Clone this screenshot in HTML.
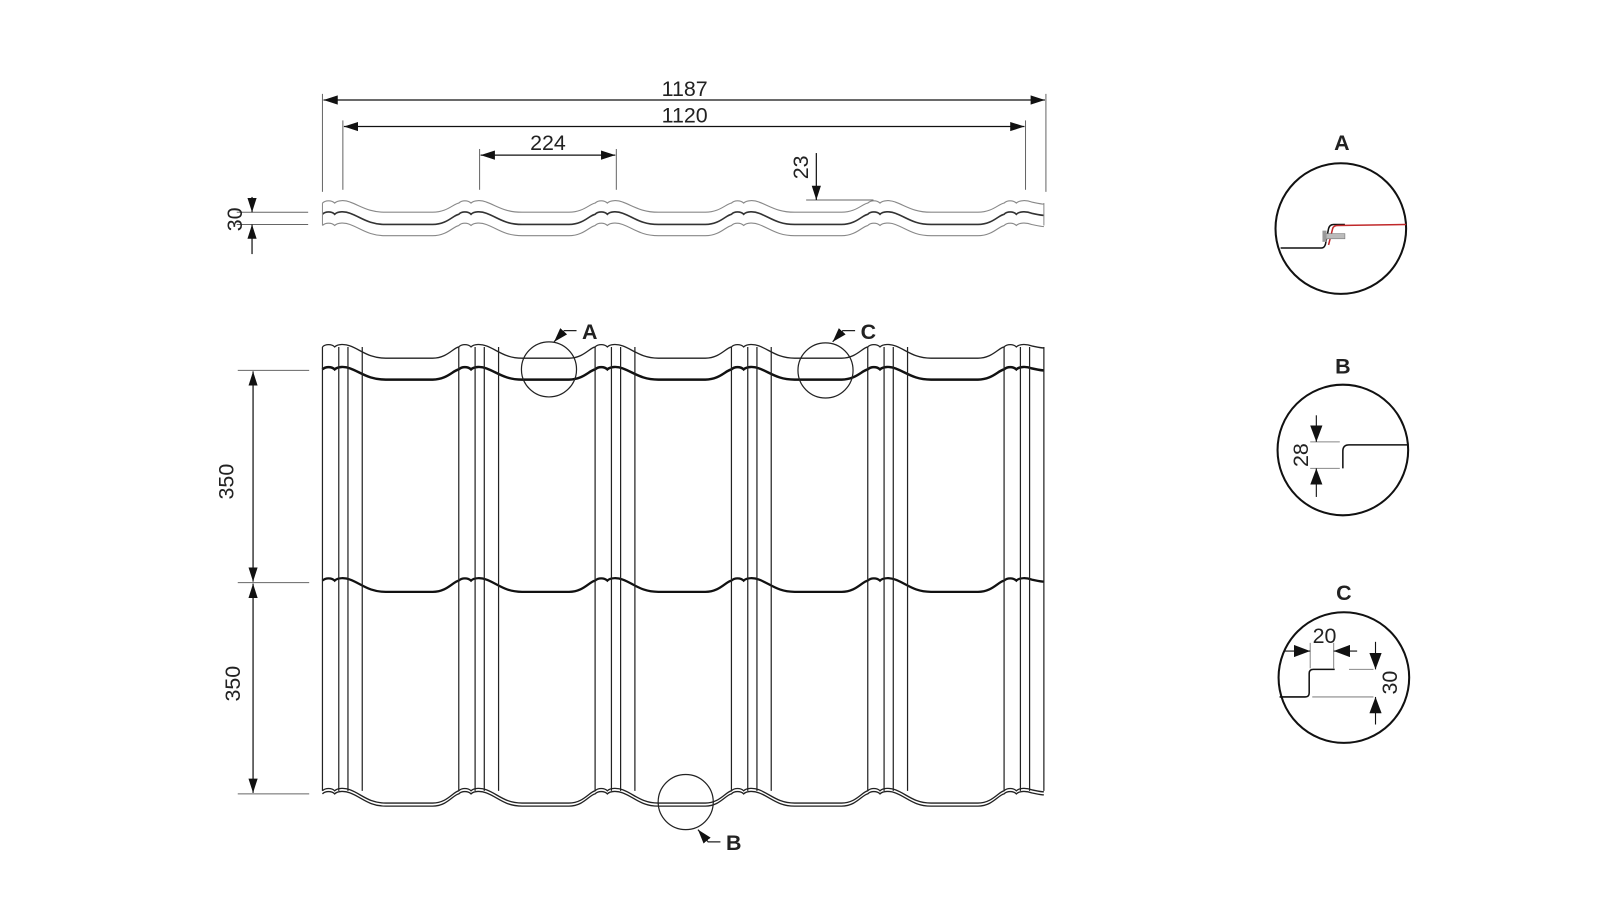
<!DOCTYPE html>
<html><head><meta charset="utf-8"><style>
html,body{margin:0;padding:0;background:#fff;width:1600px;height:900px;overflow:hidden}
svg{display:block}
text{font-family:"Liberation Sans",sans-serif;fill:#222}
</style></head><body>
<svg id="s" width="1600" height="900" viewBox="0 0 1568 882" preserveAspectRatio="none" xmlns="http://www.w3.org/2000/svg">
<defs>
<marker id="ar" viewBox="0 0 14 10" refX="14" refY="5" markerWidth="14" markerHeight="10" markerUnits="userSpaceOnUse" orient="auto-start-reverse"><path d="M0,0.5 L14,5 L0,9.5 Z" fill="#111"/></marker>
<marker id="ar2" viewBox="0 0 16 12" refX="16" refY="6" markerWidth="16" markerHeight="12" markerUnits="userSpaceOnUse" orient="auto-start-reverse"><path d="M0,0 L16,6 L0,12 Z" fill="#111"/></marker>
</defs>
<g id="curves" fill="none" stroke="#222"></g>
<g stroke="#666" stroke-width="1" fill="none">
<line x1="316" y1="92" x2="316" y2="188"/><line x1="1025" y1="92" x2="1025" y2="188"/>
<line x1="336" y1="118" x2="336" y2="186"/><line x1="1005" y1="118" x2="1005" y2="186"/>
<line x1="470" y1="146" x2="470" y2="186"/><line x1="604" y1="146" x2="604" y2="186"/>
<line x1="232" y1="208" x2="302" y2="208"/><line x1="232" y1="220" x2="302" y2="220"/>
<line x1="790" y1="196" x2="856" y2="196"/>
<line x1="233" y1="363" x2="303" y2="363"/><line x1="233" y1="571" x2="303" y2="571"/><line x1="233" y1="778" x2="303" y2="778"/>
</g>
<g stroke="#111" stroke-width="1.2" fill="none">
<line x1="317" y1="98" x2="1024" y2="98" marker-start="url(#ar)" marker-end="url(#ar)"/>
<line x1="337" y1="124" x2="1004" y2="124" marker-start="url(#ar)" marker-end="url(#ar)"/>
<line x1="471" y1="152" x2="603" y2="152" marker-start="url(#ar)" marker-end="url(#ar)"/>
<line x1="800" y1="150" x2="800" y2="196" marker-end="url(#ar)"/>
<line x1="247" y1="193" x2="247" y2="208" marker-end="url(#ar)"/>
<line x1="247" y1="249" x2="247" y2="220" marker-end="url(#ar)"/>
<line x1="248" y1="364" x2="248" y2="570" marker-start="url(#ar)" marker-end="url(#ar)"/>
<line x1="248" y1="572" x2="248" y2="777" marker-start="url(#ar)" marker-end="url(#ar)"/>
</g>
<g font-size="21" text-anchor="middle">
<text x="671" y="94">1187</text>
<text x="671" y="120">1120</text>
<text x="537" y="147">224</text>
<text transform="translate(792,164) rotate(-90)">23</text>
<text transform="translate(237,215) rotate(-90)">30</text>
<text transform="translate(229,472) rotate(-90)">350</text>
<text transform="translate(235,670) rotate(-90)">350</text>
</g>
<g stroke="#222" stroke-width="1.2" fill="none">
<circle cx="538" cy="362" r="27"/><circle cx="809" cy="363" r="27"/><circle cx="672" cy="786" r="27"/>
<polyline points="565,324 553,324 543,335" marker-end="url(#ar)"/>
<polyline points="838,324 826,324 816,335" marker-end="url(#ar)"/>
<polyline points="706,825 694,825 684,813" marker-end="url(#ar)"/>
</g>
<g font-size="21" font-weight="bold" text-anchor="middle">
<text x="578" y="332">A</text><text x="851" y="332">C</text><text x="719" y="833">B</text>
<text x="1315" y="147">A</text><text x="1316" y="366">B</text><text x="1317" y="588">C</text>
</g>
<circle cx="1314" cy="224" r="64" fill="none" stroke="#111" stroke-width="2"/>
<path d="M1255,243 L1295,243 Q1298,243 1299,239 L1302,224 Q1303,220 1307,220 L1318,220" fill="none" stroke="#111" stroke-width="1.5"/>
<path d="M1302,240 L1306,224 Q1307,221 1311,221 L1378,220" fill="none" stroke="#c0282a" stroke-width="1.5"/>
<rect x="1298" y="229" width="20" height="5" fill="#bbb" stroke="#777" stroke-width="0.6"/>
<rect x="1296" y="226" width="4" height="11" fill="#999"/>
<circle cx="1316" cy="441" r="64" fill="none" stroke="#111" stroke-width="2"/>
<path d="M1379,436 L1322,436 Q1316,436 1316,442 L1316,459" fill="none" stroke="#111" stroke-width="1.5"/>
<g stroke="#888" stroke-width="1"><line x1="1284" y1="433" x2="1313" y2="433"/><line x1="1284" y1="459" x2="1313" y2="459"/></g>
<g stroke="#111" stroke-width="1.1"><line x1="1290" y1="407" x2="1290" y2="433" marker-end="url(#ar2)"/><line x1="1290" y1="487" x2="1290" y2="459" marker-end="url(#ar2)"/></g>
<text font-size="21" text-anchor="middle" transform="translate(1282,446) rotate(-90)">28</text>
<circle cx="1317" cy="664" r="64" fill="none" stroke="#111" stroke-width="2"/>
<path d="M1254,683 L1279,683 Q1283,683 1283,679 L1283,660 Q1283,656 1287,656 L1308,656" fill="none" stroke="#111" stroke-width="1.5"/>
<g stroke="#888" stroke-width="1">
<line x1="1284" y1="630" x2="1284" y2="655"/><line x1="1307" y1="630" x2="1307" y2="655"/>
<line x1="1322" y1="656" x2="1346" y2="656"/><line x1="1286" y1="683" x2="1346" y2="683"/>
</g>
<g stroke="#111" stroke-width="1.1">
<line x1="1258" y1="638" x2="1284" y2="638" marker-end="url(#ar2)"/>
<line x1="1330" y1="638" x2="1307" y2="638" marker-end="url(#ar2)"/>
<line x1="1348" y1="629" x2="1348" y2="656" marker-end="url(#ar2)"/>
<line x1="1348" y1="710" x2="1348" y2="683" marker-end="url(#ar2)"/>
</g>
<text x="1298" y="630" font-size="21" text-anchor="middle">20</text>
<text font-size="21" text-anchor="middle" transform="translate(1369,669) rotate(-90)">30</text>
</svg>
<script>
(function(){
var G=[316,449.6,583.2,716.8,850.4,984];
function prof(c,v){
  var d="";
  for(var i=0;i<G.length;i++){
    var x=G[i];
    if(i==0)d+="M"+x+","+(c+2);
    d+=" C"+(x+3)+","+(c-1)+" "+(x+9)+","+(c-1)+" "+(x+12)+","+(c+2);
    d+=" C"+(x+15)+","+(c-1)+" "+(x+22)+","+(c-1)+" "+(x+27)+","+(c+1);
    if(i==G.length-1){d+=" C"+(x+32)+","+(c+2)+" "+(x+36)+","+(c+3)+" "+(x+39)+","+(c+3);break;}
    d+=" C"+(x+38)+","+(c+5)+" "+(x+45)+","+(c+v)+" "+(x+62)+","+(c+v);
    d+=" L"+(x+108)+","+(c+v);
    d+=" C"+(x+122)+","+(c+v)+" "+(x+128)+","+(c+3)+" "+(x+133.6)+","+(c+2);
  }
  return d;
}
var g=document.getElementById("curves"),ns="http://www.w3.org/2000/svg";
function P(d,w,col){var p=document.createElementNS(ns,"path");p.setAttribute("d",d);p.setAttribute("stroke-width",w);if(col)p.setAttribute("stroke",col);g.appendChild(p);}
function L(x1,y1,x2,y2,w,col){P("M"+x1+","+y1+" L"+x2+","+y2,w,col);}
P(prof(197,11),1.1,"#888");P(prof(208,12),1.6,"#333");P(prof(219,12),1.1,"#888");
L(316,199,316,221,1,"#888");L(1023,199,1023,221,1,"#888");
P(prof(338,13),1.3);P(prof(360,12),2.4,"#111");P(prof(567,13),2.2,"#111");
P(prof(773,14),1.3);P(prof(776,14),1.3);
var offs=[0,16,25,39];
for(var i=0;i<G.length;i++)for(var j=0;j<offs.length;j++){
  var x=G[i]+offs[j];L(x,340,x,775,1.2);
}
})();
</script>
</body></html>
